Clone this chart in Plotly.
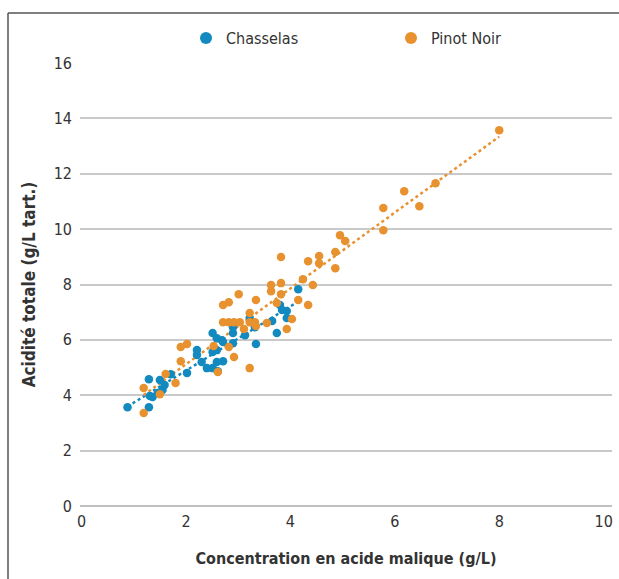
import numpy as np
import plotly.graph_objects as go

# ---- data ----
chasselas_x = [0.88, 1.29, 1.29, 1.50, 1.59, 1.55, 1.46, 1.36, 1.31, 1.71, 2.02,
               2.21, 2.21, 2.30, 2.40, 2.51, 2.61, 2.71, 2.51, 2.59, 2.69, 2.59,
               2.71, 2.51, 2.59, 2.90, 2.90, 2.90, 3.13, 3.22, 3.32, 3.34, 3.65,
               3.74, 3.80, 3.84, 3.93, 3.93, 4.15]
chasselas_y = [3.57, 3.57, 4.58, 4.55, 4.37, 4.19, 4.08, 3.94, 3.97, 4.76, 4.80,
               5.63, 5.45, 5.20, 4.98, 4.98, 4.87, 5.23, 6.25, 6.06, 5.99, 5.63,
               5.92, 5.56, 5.20, 6.46, 6.25, 5.88, 6.17, 6.79, 6.46, 5.85, 6.68,
               6.25, 7.26, 7.08, 7.04, 6.79, 7.83]

pinot_x = [8.00, 6.78, 6.18, 6.47, 5.78, 5.78, 4.95, 5.05, 4.86, 4.55, 4.34,
           4.55, 4.86, 4.24, 4.43, 4.34, 3.82, 3.63, 3.63, 3.82, 3.82, 3.01,
           2.71, 2.82, 3.34, 3.74, 4.15, 3.22, 2.71, 2.82, 2.92, 3.03, 3.22,
           3.32, 3.11, 3.34, 3.55, 3.93, 4.03, 2.53, 2.82, 2.92, 3.22, 2.61,
           1.90, 2.02, 1.90, 1.61, 1.80, 1.19, 1.50, 1.19]
pinot_y = [13.57, 11.66, 11.37, 10.83, 10.76, 9.96, 9.78, 9.57, 9.17, 9.03, 8.84,
           8.77, 8.59, 8.19, 7.98, 7.26, 8.99, 7.98, 7.76, 8.05, 7.65, 7.65,
           7.26, 7.36, 7.44, 7.33, 7.44, 6.97, 6.64, 6.64, 6.64, 6.64, 6.64,
           6.64, 6.39, 6.50, 6.61, 6.39, 6.75, 5.78, 5.74, 5.38, 4.98, 4.84,
           5.74, 5.85, 5.23, 4.77, 4.44, 4.26, 4.04, 3.36]

x_ticks = [0, 2, 4, 6, 8, 10]
y_ticks = [0, 2, 4, 6, 8, 10, 12, 14, 16]

series_names = ["Chasselas", "Pinot Noir"]
BLUE = "#138ABF"
ORANGE = "#E8912F"
TEXT = "#333333"
FONT = "DejaVu Sans Condensed, Liberation Sans Narrow, Roboto, sans-serif"


def trend(xs, ys):
    xs = np.asarray(xs)
    ys = np.asarray(ys)
    b, a = np.polyfit(xs, ys, 1)
    xx = np.array([xs.min(), xs.max()])
    return xx, a + b * xx


fig = go.Figure()

for name, xs, ys, col in [
    (series_names[0], chasselas_x, chasselas_y, BLUE),
    (series_names[1], pinot_x, pinot_y, ORANGE),
]:
    tx, ty = trend(xs, ys)
    fig.add_trace(go.Scatter(x=tx, y=ty, mode="lines", showlegend=False,
                             line=dict(color=col, width=2.5, dash="dot"),
                             hoverinfo="skip"))

for name, xs, ys, col in [
    (series_names[0], chasselas_x, chasselas_y, BLUE),
    (series_names[1], pinot_x, pinot_y, ORANGE),
]:
    fig.add_trace(go.Scatter(x=xs, y=ys, mode="markers", name=name,
                             marker=dict(color=col, size=8.5, line=dict(width=0))))

W, H = 619, 579
L, R, T, B = 80, 7, 63, 73
pw, ph = W - L - R, H - T - B


def px_x(p):
    return (p - L) / pw


def px_y(p):
    return (H - B - p) / ph


fig.update_layout(
    width=W, height=H,
    margin=dict(l=L, r=R, t=T, b=B),
    paper_bgcolor="white", plot_bgcolor="white",
    font=dict(family=FONT, size=16, color=TEXT),
    showlegend=True,
    legend=dict(orientation="h", x=px_x(186), xanchor="left",
                y=px_y(38), yanchor="middle",
                entrywidth=160, font=dict(size=16, color=TEXT),
                bgcolor="rgba(0,0,0,0)", itemsizing="constant"),
    xaxis=dict(range=[-0.03, 10.16], tickvals=x_ticks, showgrid=False,
               zeroline=False, showline=False, ticks="",
               ticklabelstandoff=4,
               title=dict(text="<b>Concentration en acide malique (g/L)</b>",
                          font=dict(size=16, color=TEXT), standoff=22)),
    yaxis=dict(range=[0, 16], tickvals=y_ticks, showgrid=True,
               gridcolor="#C9C9C9", gridwidth=1.6, zeroline=True,
               zerolinecolor="#C0C0C0", zerolinewidth=1.6,
               showline=False, ticks="", ticklabelstandoff=7,
               title=dict(text="<b>Acidité totale (g/L tart.)</b>",
                          font=dict(size=17, color=TEXT), standoff=13)),
    shapes=[
        dict(type="line", xref="paper", yref="paper",
             x0=px_x(8), x1=px_x(8), y0=px_y(13), y1=px_y(600),
             line=dict(color="#555555", width=1.5)),
        dict(type="line", xref="paper", yref="paper",
             x0=px_x(8), x1=px_x(640), y0=px_y(13), y1=px_y(13),
             line=dict(color="#555555", width=1.5)),
    ],
)

fig.write_html("out.html")
